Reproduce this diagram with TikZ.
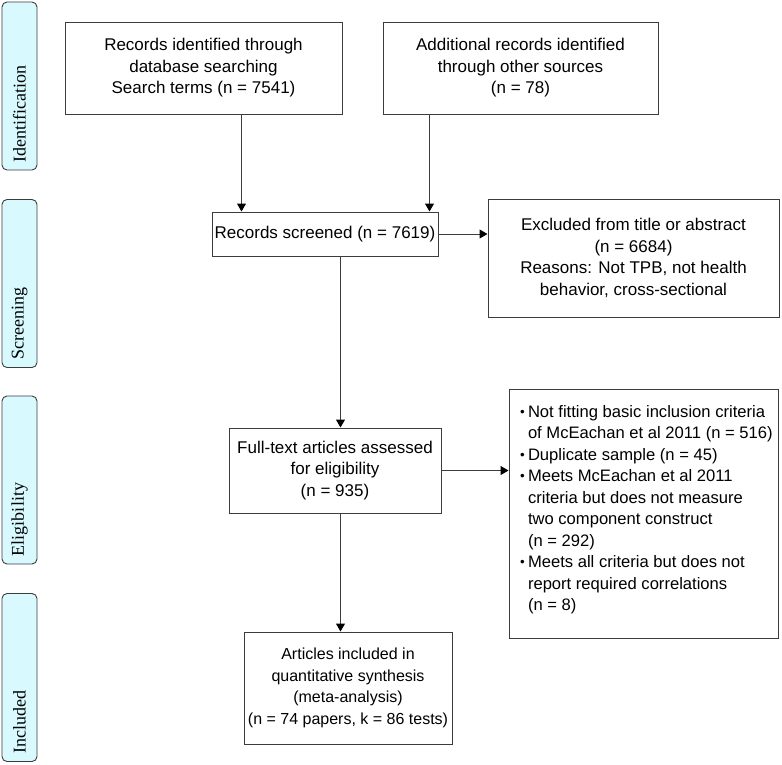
\documentclass[tikz,border=0pt]{standalone}
\usepackage{fontspec}
\usepackage{graphicx}
\setmainfont{Liberation Sans}
\newfontfamily\phasefont{Liberation Serif}
\usetikzlibrary{arrows.meta}
\definecolor{phasefill}{HTML}{D8FAFF}
\definecolor{linegray}{HTML}{3C3C3C}
\newcommand{\boxfont}{\fontsize{17}{21.5}\selectfont}
\newcommand{\blt}{\makebox[8.5pt][l]{\hspace{0.5pt}\raisebox{1pt}{\scalebox{0.8}{\textbullet}}}}
\newcommand{\ind}{\hspace*{8.5pt}}

\begin{document}
\begin{tikzpicture}[x=1pt, y=-1pt,
    box/.style={draw=linegray, line width=1pt, align=center, font=\boxfont, inner sep=0pt},
    phase/.style={draw=linegray, fill=phasefill, line width=0.9pt, rounded corners=5pt, rotate=90,
      minimum height=35pt, text width=152pt, inner xsep=8pt, inner ysep=0pt, align=left,
      font=\phasefont\fontsize{18}{20}\selectfont},
    arr/.style={draw=linegray, line width=1pt, -{Triangle[length=8pt,width=9pt,color=black]}}]
\useasboundingbox (0,0) rectangle (782,764);
% Phases
\node[phase] (pid) at (19.5,86) {Identification};
\node[phase] (pscr) at (19.5,283.5) {Screening};
\node[phase] (pelig) at (19.5,480) {Eligibility};
\node[phase] (pinc) at (19.5,677.5) {Included};
% Boxes
\node[box, minimum width=277pt, minimum height=92pt] (db) at (203.5,68)
  {Records identified through\\database searching\\Search terms (n = 7541)};
\node[box, minimum width=275pt, minimum height=92pt] (other) at (520.5,68)
  {Additional records identified\\through other sources\\(n = 78)};
\node[box, minimum width=226pt, minimum height=44pt] (screen) at (325,234)
  {Records screened (n = 7619)};
\node[box, minimum width=291pt, minimum height=118pt] (excl) at (633.5,258)
  {Excluded from title or abstract\\(n = 6684)\\Reasons: Not TPB, not health\\behavior, cross-sectional};
\node[box, minimum width=212pt, minimum height=85pt] (full) at (335,470.5)
  {Full-text articles assessed\\for eligibility\\(n = 935)};
\node[box, minimum width=269pt, minimum height=249pt] (fullexcl) at (643.5,513.5)
  {\parbox[c][217pt][t]{248pt}{\fontsize{16.6}{21.5}\selectfont\raggedright
    \blt Not fitting basic inclusion criteria\\
    \ind\mbox{of McEachan et al 2011 (n = 516)}\\
    \blt Duplicate sample (n = 45)\\
    \blt Meets McEachan et al 2011\\
    \ind criteria but does not measure\\
    \ind two component construct\\
    \ind (n = 292)\\
    \blt Meets all criteria but does not\\
    \ind report required correlations\\
    \ind (n = 8)}};
\node[box, minimum width=208pt, minimum height=112pt, font=\fontsize{16}{21.5}\selectfont] (incl) at (348,688)
  {Articles included in\\quantitative synthesis\\(meta-analysis)\\(n = 74 papers, k = 86 tests)};
% Arrows
\coordinate (dbout) at ([xshift=177pt]db.south west);
\coordinate (otherout) at ([xshift=47pt]other.south west);
\coordinate (scrout) at ([xshift=129pt]screen.south west);
\coordinate (fullout) at ([xshift=112pt]full.south west);
\draw[arr] (dbout) -- (dbout |- screen.north);
\draw[arr] (otherout) -- (otherout |- screen.north);
\draw[arr] (screen.east) -- (screen.east -| excl.west);
\draw[arr] (scrout) -- (scrout |- full.north);
\draw[arr] (full.east) -- (full.east -| fullexcl.west);
\draw[arr] (fullout) -- (fullout |- incl.north);
\end{tikzpicture}
\end{document}
